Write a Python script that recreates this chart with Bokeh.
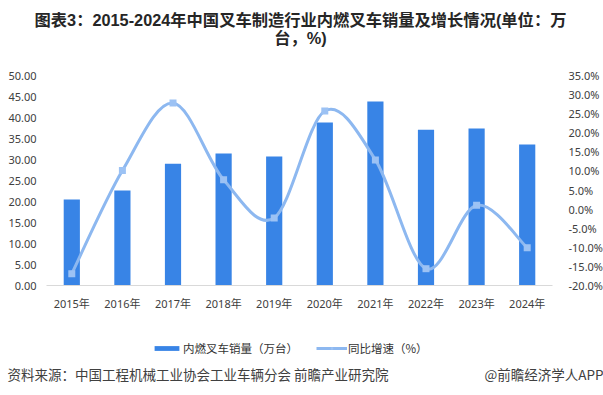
from bokeh.plotting import figure
from bokeh.models import (Range1d, LinearAxis, FixedTicker, PrintfTickFormatter,
                          NumeralTickFormatter, CustomJSTickFormatter, Label, Legend, LegendItem)
from bokeh.embed import file_html
from bokeh.resources import INLINE

# ---- data ----
years = ["2015年", "2016年", "2017年", "2018年", "2019年",
         "2020年", "2021年", "2022年", "2023年", "2024年"]
sales = [20.5, 22.6, 29.0, 31.4, 30.7, 38.8, 43.8, 37.1, 37.4, 33.6]   # 万台
growth = [-16.9, 10.1, 27.8, 7.7, -2.3, 25.7, 12.9, -15.6, 1.0, -10.1]  # %
left_ticks = [0, 5, 10, 15, 20, 25, 30, 35, 40, 45, 50]
right_ticks = [-20, -15, -10, -5, 0, 5, 10, 15, 20, 25, 30, 35]

title_lines = ["图表3：2015-2024年中国叉车制造行业内燃叉车销量及增长情况(单位：万", "台，%)"]
source_text = "资料来源：中国工程机械工业协会工业车辆分会 前瞻产业研究院"
brand_text = "@前瞻经济学人APP"
bar_name = "内燃叉车销量（万台）"
line_name = "同比增速（%）"

# ---- layout (pixels inside the canvas) ----
W, H = 603, 393
PL, PR, PT, PB = 46, 552, 75, 285      # plot area left/right/top/bottom
CJK = "Noto Sans CJK SC"
NUM = "Noto Sans, Noto Sans CJK SC"
BAR = "#3884E6"
LINE = "#8DB8F0"
MARK = "#9CC2F4"
TXT = "#404040"

n = len(years)
cat_w = (PR - PL) / n
xr = Range1d(-0.5 - PL / cat_w, n - 0.5 + (W - PR) / cat_w)
l_lo, l_hi = left_ticks[0], left_ticks[-1]
r_lo, r_hi = right_ticks[0], right_ticks[-1]
lpx = (PB - PT) / (l_hi - l_lo)
rpx = (PB - PT) / (r_hi - r_lo)
yr = Range1d(l_lo - (H - PB) / lpx, l_hi + PT / lpx)
yr_pct = Range1d(r_lo - (H - PB) / rpx, r_hi + PT / rpx)

p = figure(width=W, height=H, x_range=xr, y_range=yr, output_backend="svg",
           toolbar_location=None, min_border=0)
p.extra_y_ranges = {"pct": yr_pct}
p.xgrid.visible = False
p.ygrid.visible = False
p.outline_line_color = None

xs = list(range(n))

# left axis
ya = p.yaxis[0]
ya.fixed_location = -0.5
ya.ticker = FixedTicker(ticks=left_ticks)
ya.formatter = NumeralTickFormatter(format="0.00")
ya.axis_line_color = None
ya.major_tick_line_color = None
ya.minor_tick_line_color = None
ya.major_label_text_font = NUM
ya.major_label_text_font_size = "11px"
ya.major_label_text_color = TXT
ya.major_label_standoff = 4

# right axis
ra = LinearAxis(y_range_name="pct", fixed_location=n - 0.5,
                ticker=FixedTicker(ticks=right_ticks),
                formatter=PrintfTickFormatter(format="%.1f%%"))
ra.axis_line_color = None
ra.major_tick_line_color = None
ra.minor_tick_line_color = None
ra.major_label_text_font = NUM
ra.major_label_text_font_size = "11px"
ra.major_label_text_color = TXT
ra.major_label_standoff = 10
p.add_layout(ra, "right")

# category axis
xa = p.xaxis[0]
xa.fixed_location = l_lo
xa.bounds = (-0.5, n - 0.5)
xa.ticker = FixedTicker(ticks=xs)
xa.formatter = CustomJSTickFormatter(args=dict(labels=years),
                                     code="return labels[Math.round(tick)] || '';")
xa.axis_line_color = "#D9D9D9"
xa.major_tick_line_color = None
xa.minor_tick_line_color = None
xa.major_label_text_font = NUM
xa.major_label_text_font_size = "11px"
xa.major_label_text_color = TXT
xa.major_label_standoff = 4

bars = p.vbar(x=xs, top=sales, bottom=l_lo, width=0.32, fill_color=BAR, line_color=None)

# smoothed line: bezier segments through the data points (Catmull-Rom control points)
x0, y0, x1, y1, cx0, cy0, cx1, cy1 = [], [], [], [], [], [], [], []
for i in range(n - 1):
    im, i2 = max(i - 1, 0), min(i + 2, n - 1)
    x0.append(xs[i]); y0.append(growth[i])
    x1.append(xs[i + 1]); y1.append(growth[i + 1])
    cx0.append(xs[i] + (xs[i + 1] - xs[im]) / 6.0)
    cy0.append(growth[i] + (growth[i + 1] - growth[im]) / 6.0)
    cx1.append(xs[i + 1] - (xs[i2] - xs[i]) / 6.0)
    cy1.append(growth[i + 1] - (growth[i2] - growth[i]) / 6.0)
curve = p.bezier(x0=x0, y0=y0, x1=x1, y1=y1, cx0=cx0, cy0=cy0, cx1=cx1, cy1=cy1,
                 y_range_name="pct", line_color=LINE, line_width=3)
marks = p.scatter(x=xs, y=growth, marker="square", size=7, y_range_name="pct",
                  fill_color=MARK, line_color=None)

legend = Legend(items=[LegendItem(label=bar_name, renderers=[bars]),
                       LegendItem(label=line_name, renderers=[curve, marks])],
                orientation="horizontal", location=(151, 37),
                glyph_width=31, glyph_height=6, label_standoff=1, spacing=18,
                label_text_font=CJK, label_text_font_size="11.5px",
                label_text_color="#333333", padding=0, margin=0,
                border_line_color=None, background_fill_alpha=0)
p.add_layout(legend, "center")

for txt, yy in zip(title_lines, (H - 19, H - 37)):
    p.add_layout(Label(x=300, y=yy, x_units="screen", y_units="screen", text=txt,
                       text_align="center", text_baseline="middle",
                       text_font="Liberation Sans, Noto Sans CJK SC", text_font_size="16.3px",
                       text_font_style="bold", text_color="#262626"))
p.add_layout(Label(x=7, y=H - 373, x_units="screen", y_units="screen", text=source_text,
                   text_align="left", text_baseline="middle", text_font=CJK,
                   text_font_size="13.5px", text_color=TXT))
p.add_layout(Label(x=W, y=H - 373, x_units="screen", y_units="screen", text=brand_text,
                   text_align="right", text_baseline="middle", text_font=CJK,
                   text_font_size="13.5px", text_color=TXT))

open("out.html", "w").write(file_html(p, INLINE))
